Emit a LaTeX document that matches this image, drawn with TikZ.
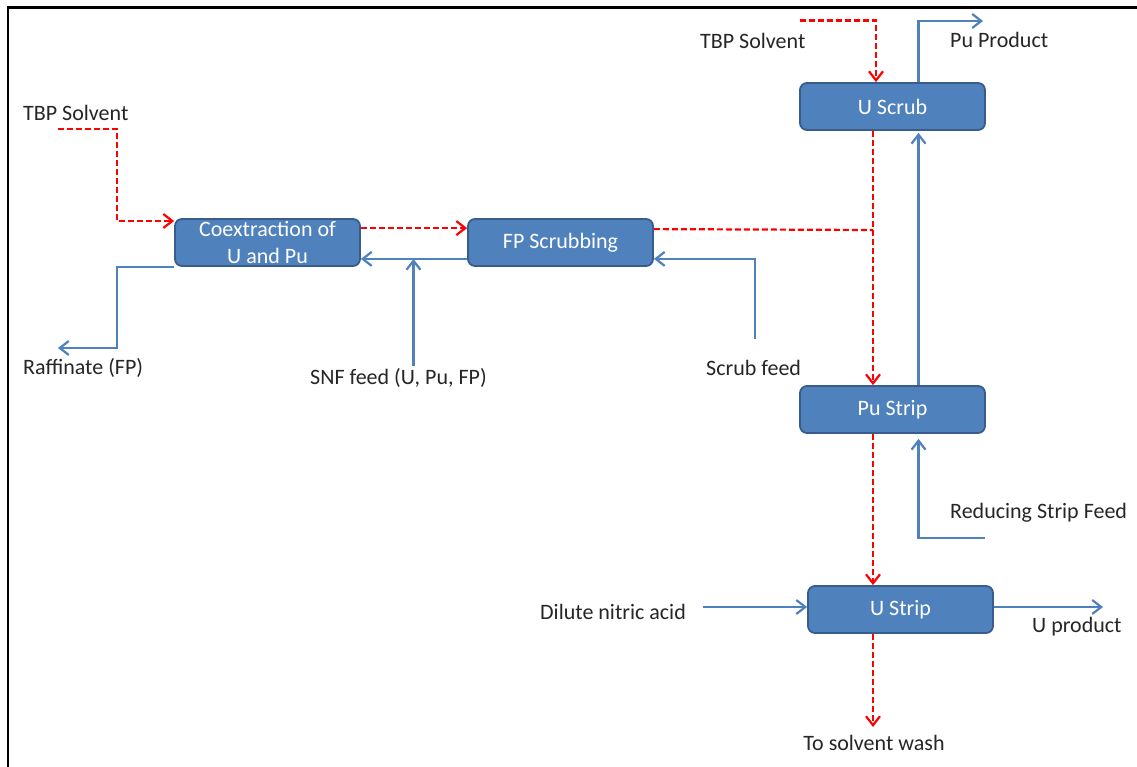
\documentclass[tikz,border=0pt]{standalone}
\usepackage{fontspec}
\setmainfont{Carlito}
\usetikzlibrary{arrows.meta,calc}
\definecolor{boxfill}{HTML}{4F81BD}
\definecolor{boxline}{HTML}{385D8A}
\definecolor{feedblue}{HTML}{4F81BD}
\tikzset{
  proc/.style={rectangle, rounded corners=7pt, fill=boxfill, draw=boxline, line width=1.8pt,
    minimum width=185pt, minimum height=47pt, text=white, align=center, inner sep=0pt,
    font=\fontsize{22}{27}\selectfont},
  lbl/.style={font=\fontsize{22}{27}\selectfont, inner sep=0pt, anchor=west, text=black!85},
  sol/.style={draw=red, line width=2.2pt, dash pattern=on 6pt off 3pt,
    -{Straight Barb[length=9pt,width=14pt,line width=2.2pt]}},
  solplain/.style={draw=red, line width=2.2pt, dash pattern=on 6pt off 3pt},
  feed/.style={draw=feedblue, line width=2.2pt,
    -{Straight Barb[length=9pt,width=14pt,line width=2.2pt]}},
}
\begin{document}
\begin{tikzpicture}[x=1pt,y=-1pt]
\useasboundingbox (0,0) rectangle (1137,767);
\fill[white] (0,0) rectangle (1137,767);
\draw[line width=2.2pt, line cap=rect] (8,767) -- (8,7.5) -- (1137,7.5);

% process boxes
\node[proc] (co)  at (267.5,242.5) {Coextraction of\\U and Pu};
\node[proc] (fp)  at (560.5,242.5) {FP Scrubbing};
\node[proc] (us)  at (892.5,106.5) {U Scrub};
\node[proc] (ps)  at (892.5,409.5) {Pu Strip};
\node[proc] (ust) at (900.5,609.5) {U Strip};

% labels
\node[lbl] (tbp1) at (23,113) {TBP Solvent};
\node[lbl] (tbp2) at (700,41) {TBP Solvent};
\node[lbl] (pupt) at (950,40) {Pu Product};
\node[lbl] (raft) at (23,368) {Raffinate (FP)};
\node[lbl] (snft) at (310,378) {SNF feed (U, Pu, FP)};
\node[lbl] (sft)  at (706,368) {Scrub feed};
\node[lbl] (rsft) at (950,513) {Reducing Strip Feed};
\node[lbl] (dnat) at (540,612) {Dilute nitric acid};
\node[lbl] (upt)  at (1032,627) {U product};
\node[lbl, anchor=center] (swt) at (874,743) {To solvent wash};

% coordinates
\coordinate (s1) at (58,129);
\coordinate (s1b) at (117,221);
\coordinate (s2) at (800,20.5);
\coordinate (s2c) at (876,20.5);
\coordinate (j) at (873,230);
\coordinate (sw) at (873,727);
\coordinate (k) at (918.5,0);
\coordinate (rb) at (117,348);
\coordinate (raf) at (58,348);
\coordinate (snf) at (413.5,366);
\coordinate (snfe) at (413.5,259);
\coordinate (sf) at (755,339);
\coordinate (pup) at (983,21);
\coordinate (rsf) at (985,538);
\coordinate (dna) at (703,607);
\coordinate (up) at (1103,607);

% solvent (red dashed)
\draw[sol] (s1) -| (s1b) -- (s1b -| co.west);
\draw[sol] ($(co.north east)+(0,10)$) -- ($(fp.north west)+(0,10)$);
\draw[solplain] ($(fp.north east)+(0,11)$) -- (j);
\draw[sol] (us.south -| j) -- (ps.north -| j);
\draw[sol] (s2) -- (s2c) -- (us.north -| s2c);
\draw[sol] (ps.south -| j) -- (ust.north -| j);
\draw[sol] (ust.south -| j) -- (sw);

% aqueous (blue)
\draw[feed] (co.south west) -| (rb) -- (raf);
\draw[feed] ($(fp.south west)+(0,-8)$) -- ($(co.south east)+(0,-8)$);
\draw[feed] (snf) -- (snfe);
\draw[feed] (sf) |- ($(fp.south east)+(0,-8)$);
\draw[feed] (ps.north -| k) -- ($(us.south -| k)+(0,2)$);
\draw[feed] (us.north -| k) |- (pup);
\draw[feed] (rsf) -| ($(ps.south -| k)+(0,5)$);
\draw[feed] (dna) -- (dna -| ust.west);
\draw[feed] (dna -| ust.east) -- (up);
\end{tikzpicture}
\end{document}
